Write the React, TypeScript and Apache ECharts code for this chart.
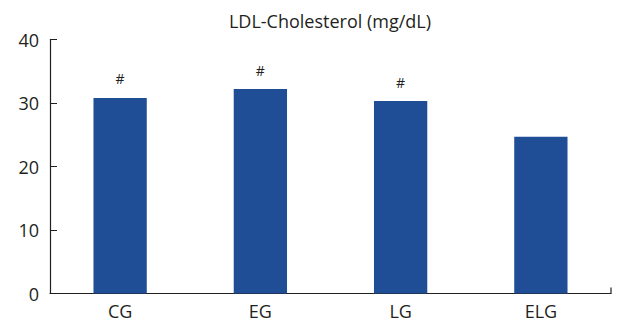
import React, { useEffect, useRef } from "react";
import * as echarts from "echarts";

const categories = ["CG", "EG", "LG", "ELG"];
const values = [30.8, 32.2, 30.3, 24.7];
const marks = ["#", "#", "#", ""];
const yTicks = [0, 10, 20, 30, 40];
const titleText = "LDL-Cholesterol (mg/dL)";

export default function App() {
  const ref = useRef<HTMLDivElement>(null);
  useEffect(() => {
    if (!ref.current) return;
    const chart = echarts.init(ref.current, null, { renderer: "svg" });
    const font = "'Open Sans', 'Noto Sans', sans-serif";
    const left = 50, right = 11, top = 39.5, bottom = 29.5;
    chart.setOption({
      animation: false,
      grid: { left, right, top, bottom, containLabel: false },
      xAxis: {
        type: "category",
        data: categories,
        axisLine: { lineStyle: { color: "#231f20", width: 1.2 } },
        axisTick: { show: false },
        axisLabel: { fontFamily: font, fontSize: 18, color: "#231f20", margin: 8 },
      },
      yAxis: {
        type: "value",
        min: yTicks[0],
        max: yTicks[yTicks.length - 1],
        interval: 10,
        axisLine: { show: true, lineStyle: { color: "#231f20", width: 1.2 } },
        axisTick: { show: true, inside: true, length: 7, lineStyle: { color: "#231f20" } },
        splitLine: { show: false },
        axisLabel: { fontFamily: font, fontSize: 18, color: "#231f20", margin: 11 },
      },
      graphic: [
        {
          type: "text",
          x: 330,
          y: 21,
          style: {
            text: titleText,
            fontFamily: font,
            fontSize: 18,
            fill: "#231f20",
            align: "center",
            verticalAlign: "middle",
          },
        },
        {
          type: "line",
          shape: { x1: 622 - right, y1: 323 - bottom, x2: 622 - right, y2: 323 - bottom - 6 },
          style: { stroke: "#231f20", lineWidth: 1.2 },
        },
      ],
      series: [
        {
          type: "bar",
          data: values.map((v, i) => ({ value: v, label: { formatter: marks[i] } })),
          barWidth: "38%",
          itemStyle: { color: "#1f4e96" },
          label: {
            show: true,
            position: "top",
            distance: 12,
            fontFamily: font,
            fontSize: 14,
            color: "#231f20",
          },
        },
      ],
    });
    return () => chart.dispose();
  }, []);
  return <div ref={ref} style={{ width: 622, height: 323, position: "absolute", left: 0, top: 0 }} />;
}
